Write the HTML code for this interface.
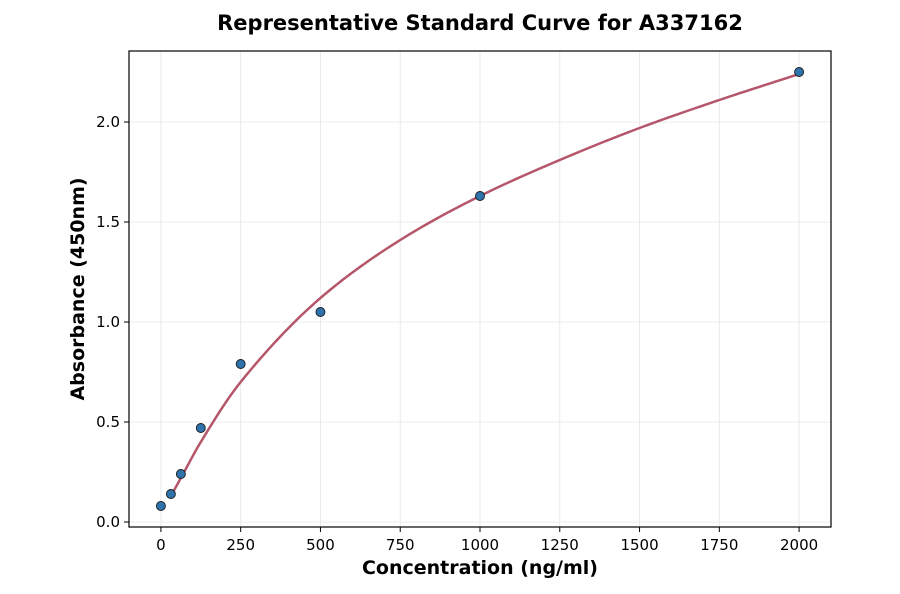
<!DOCTYPE html>
<html><head><meta charset="utf-8"><style>
body{margin:0;background:#fff;}
svg{display:block;font-family:"DejaVu Sans","Liberation Sans",sans-serif;}
</style></head><body>
<svg id="chart" width="900" height="594" viewBox="0 0 900 594">
<rect width="900" height="594" fill="#fff"/>
<text x="480" y="30" text-anchor="middle" font-size="21" font-weight="bold">Representative Standard Curve for A337162</text>
<g id="grid"></g>
<g id="curve"></g>
<g id="points"></g>
<rect x="129" y="51" width="702" height="476" fill="none" stroke="#000" stroke-width="1.2"/>
<g id="ticks"></g>
<text x="480" y="574" text-anchor="middle" font-size="19" font-weight="bold">Concentration (ng/ml)</text>
<text transform="translate(84,289) rotate(-90)" text-anchor="middle" font-size="19" font-weight="bold">Absorbance (450nm)</text>
</svg>
<script>
const concentrations=[0,31.25,62.5,125,250,500,1000,2000];
const absorbances=[0.08,0.14,0.24,0.47,0.79,1.05,1.63,2.25];
const curveX=[31.25,62.5,125,250,500,750,1000,1250,1500,1750,2000];
const curveY=[0.13,0.22,0.40,0.70,1.12,1.41,1.63,1.81,1.97,2.11,2.24];
const xTicks=[0,250,500,750,1000,1250,1500,1750,2000];
const yTicks=[0,0.5,1.0,1.5,2.0];
const NS="http://www.w3.org/2000/svg";
const L=129,R=831,T=51,B=527,xmin=-100,xmax=2100,ymin=-0.025,ymax=2.355;
const sx=v=>L+(v-xmin)/(xmax-xmin)*(R-L);
const sy=v=>B-(v-ymin)/(ymax-ymin)*(B-T);
function mk(tag,attrs,parent){const e=document.createElementNS(NS,tag);for(const k in attrs)e.setAttribute(k,attrs[k]);document.getElementById(parent).appendChild(e);return e;}
xTicks.forEach(t=>{
  const g=mk('line',{x1:sx(t),x2:sx(t),y1:T,y2:B,stroke:'#e6e6e6','stroke-width':0.8},'grid');
  
  
  const k=mk('line',{x1:sx(t),x2:sx(t),y1:B,y2:B+5,stroke:'#000','stroke-width':1},'ticks');
  
  
  const tx=mk('text',{x:sx(t),y:B+23,'text-anchor':'middle','font-size':15},'ticks');
  tx.textContent=t;
  
  
});
yTicks.forEach(t=>{
  const g=mk('line',{x1:L,x2:R,y1:sy(t),y2:sy(t),stroke:'#e6e6e6','stroke-width':0.8},'grid');
  
  
  const k=mk('line',{x1:L-5,x2:L,y1:sy(t),y2:sy(t),stroke:'#000','stroke-width':1},'ticks');
  
  
  const tx=mk('text',{x:L-9,y:sy(t)+5,'text-anchor':'end','font-size':15},'ticks');
  tx.textContent=t.toFixed(1);
  
  
});
// monotone cubic Hermite interpolation in data space
const n=curveX.length, m=[];
const dl=[];for(let i=0;i<n-1;i++)dl.push((curveY[i+1]-curveY[i])/(curveX[i+1]-curveX[i]));
m[0]=dl[0];m[n-1]=dl[n-2];
for(let i=1;i<n-1;i++){m[i]=(dl[i-1]*dl[i]<=0)?0:2/(1/dl[i-1]+1/dl[i]);}
let d='';
for(let i=0;i<n-1;i++){
  const h=curveX[i+1]-curveX[i];
  for(let s=0;s<=20;s++){
    if(i>0&&s===0)continue;
    const t=s/20,t2=t*t,t3=t2*t;
    const y=(2*t3-3*t2+1)*curveY[i]+(t3-2*t2+t)*h*m[i]+(-2*t3+3*t2)*curveY[i+1]+(t3-t2)*h*m[i+1];
    const x=curveX[i]+t*h;
    d+=(d?' L':'M')+sx(x).toFixed(2)+','+sy(y).toFixed(2);
  }
}
const path=mk('path',{d:d,fill:'none',stroke:'#b5566a','stroke-width':2.5},'curve');


concentrations.forEach((c,i)=>{
  const pt=mk('circle',{cx:sx(c),cy:sy(absorbances[i]),r:4.5,fill:'#2f73ad',stroke:'#1a1a1a','stroke-width':0.9},'points');
  
  
});
</script>
</body></html>
